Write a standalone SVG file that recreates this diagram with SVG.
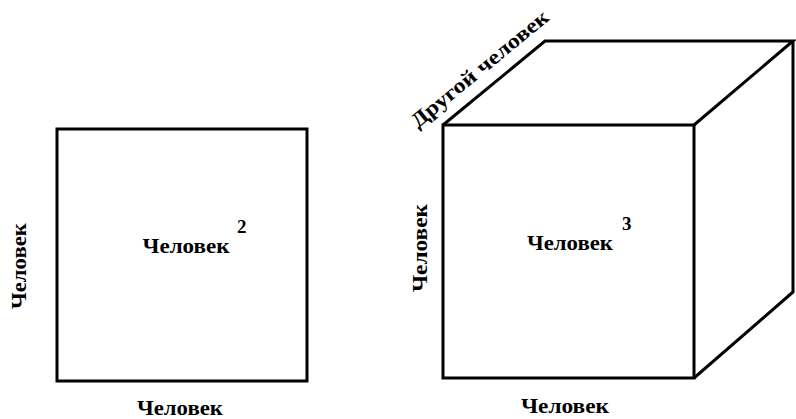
<svg xmlns="http://www.w3.org/2000/svg" width="796" height="419" viewBox="0 0 796 419">
<style>
.l{fill:none;stroke:#000;stroke-width:3;stroke-linejoin:miter}
text{fill:#000}
</style>
<rect width="796" height="419" fill="#fff"/>
<g id="square" font-family="Liberation Serif, Times New Roman, serif" font-weight="bold" font-size="21">
<rect class="l" x="57" y="129" width="250" height="252"/>
<text x="186" y="253" text-anchor="middle" textLength="87" lengthAdjust="spacingAndGlyphs">Человек</text>
<text x="237" y="233" font-size="19">2</text>
<text x="180" y="415" text-anchor="middle" textLength="86" lengthAdjust="spacingAndGlyphs">Человек</text>
<text transform="translate(26,266) rotate(-90)" text-anchor="middle" textLength="86" lengthAdjust="spacingAndGlyphs">Человек</text>
</g>
<g id="cube" font-family="Liberation Serif, Times New Roman, serif" font-weight="bold" font-size="21">
<rect class="l" x="443" y="125" width="251" height="253"/>
<path class="l" d="M443 125 L545 41 L793 41 L694 125 M793 41 L793 292 L694 378"/>
<text x="570" y="250" text-anchor="middle" textLength="86" lengthAdjust="spacingAndGlyphs">Человек</text>
<text x="622" y="230" font-size="19">3</text>
<text x="565" y="413" text-anchor="middle" textLength="88" lengthAdjust="spacingAndGlyphs">Человек</text>
<text transform="translate(427,248) rotate(-90)" text-anchor="middle" textLength="88" lengthAdjust="spacingAndGlyphs">Человек</text>
<text transform="translate(484,74) rotate(-39.5)" text-anchor="middle" textLength="172" lengthAdjust="spacingAndGlyphs">Другой человек</text>
</g>
</svg>
